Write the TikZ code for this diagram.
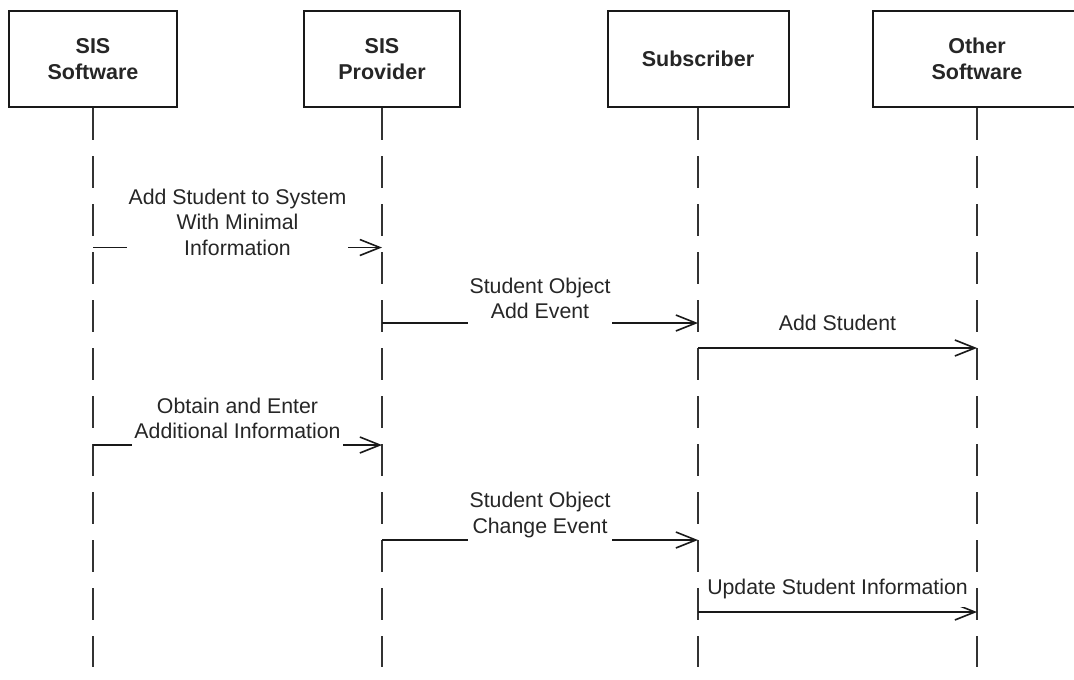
\documentclass[tikz,border=0pt]{standalone}
\usepackage{fontspec}
\setmainfont{Liberation Sans}
\usetikzlibrary{arrows.meta}
\begin{document}
\begin{tikzpicture}[x=1pt,y=-1pt,
  every node/.style={font=\fontsize{21.3}{25.5}\selectfont, text=black!85},
  head/.style={draw=black!90, line width=2pt, fill=white, align=center,
    font=\bfseries\fontsize{21.5}{25.5}\selectfont, minimum height=96pt, inner sep=0pt},
  lifeline/.style={draw=black!80, line width=1.8pt, dash pattern=on 32pt off 16pt},
  msg/.style={draw=black!90, line width=1.6pt,
    -{Straight Barb[length=20pt,width=16pt,line width=1.6pt]}},
  lbl/.style={fill=white, align=center, inner xsep=2pt, inner ysep=8pt}
]
\useasboundingbox (0,0) rectangle (1074,680);

% participants
\node[head, minimum width=168pt] (sw) at (93,59)    {SIS\\Software};
\node[head, minimum width=156pt] (sp) at (382,59)   {SIS\\Provider};
\node[head, minimum width=181pt] (sb) at (698,59)   {Subscriber};
\node[head, minimum width=208pt] (os) at (977,59)   {Other\\Software};

% lifelines
\foreach \p in {sw,sp,sb,os}
  \draw[lifeline] (\p.south) -- (\p.south |- 0,667);

% messages
\draw[msg] (sw.south |- 0,247.5) -- (sp.south |- 0,247.5);
\draw[msg] (sp.south |- 0,323)   -- (sb.south |- 0,323);
\draw[msg] (sb.south |- 0,348)   -- (os.south |- 0,348);
\draw[msg] (sw.south |- 0,445)   -- (sp.south |- 0,445);
\draw[msg] (sp.south |- 0,540)   -- (sb.south |- 0,540);
\draw[msg] (sb.south |- 0,612)   -- (os.south |- 0,612);

% message labels
\node[lbl] (l1) at (237.5,222)   {Add Student to System\\With Minimal\\Information};
\node[lbl] (l2) at (540,298.5)   {Student Object\\Add Event};
\node[lbl] (l3) at (837.5,323)   {Add Student};
\node[lbl] (l4) at (237.5,418.5) {Obtain and Enter\\Additional Information};
\node[lbl] (l5) at (540,515)     {Student Object\\Change Event};
\node[lbl] (l6) at (837.5,589)   {Update Student Information};
\end{tikzpicture}
\end{document}
